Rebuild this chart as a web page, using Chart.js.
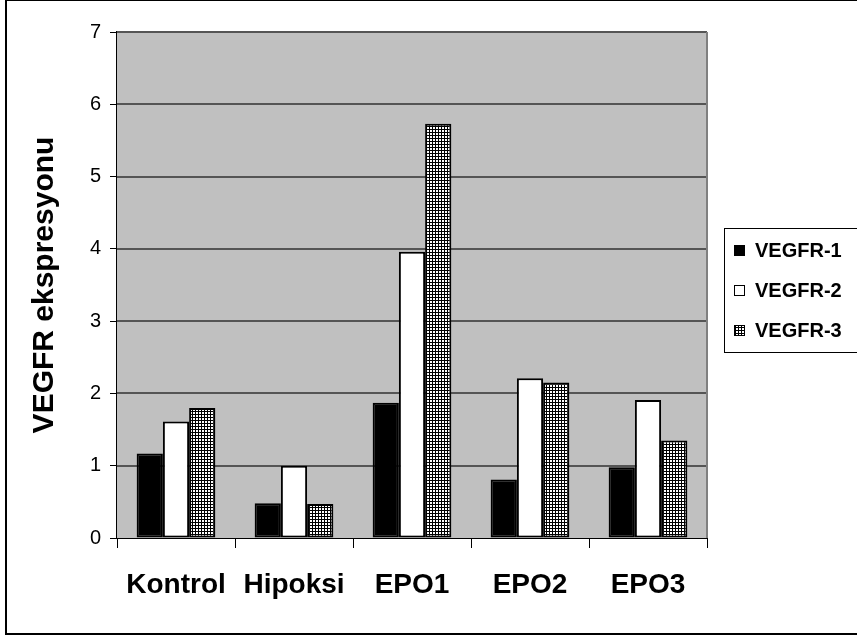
<!DOCTYPE html>
<html>
<head>
<meta charset="utf-8">
<script src="https://cdn.jsdelivr.net/npm/chart.js@4/dist/chart.umd.min.js"></script>
<style>
  html, body { margin: 0; padding: 0; background: #fff; }
  #wrap { width: 857px; height: 637px; }
</style>
</head>
<body>
<div id="wrap"><canvas id="c" width="857" height="637"></canvas></div>
<script>
// Categories and measured expression levels
const categories = ['Kontrol', 'Hipoksi', 'EPO1', 'EPO2', 'EPO3'];
const seriesNames = ['VEGFR-1', 'VEGFR-2', 'VEGFR-3'];
const vegfr1 = [1.17, 0.48, 1.87, 0.81, 0.98];
const vegfr2 = [1.61, 1.00, 3.96, 2.21, 1.91];
const vegfr3 = [1.80, 0.47, 5.73, 2.15, 1.35];
const yTicks = [0, 1, 2, 3, 4, 5, 6, 7];

const FONT = "'Liberation Sans', Arial, sans-serif";

// fine checkered fill for the third series
function gridPattern() {
  const p = document.createElement('canvas');
  p.width = 3; p.height = 3;
  const g = p.getContext('2d');
  g.fillStyle = '#ffffff';
  g.fillRect(0, 0, 3, 3);
  g.fillStyle = '#000000';
  g.fillRect(0, 0, 3, 1);
  g.fillRect(0, 0, 1, 3);
  return g.createPattern(p, 'repeat');
}
const ctx = document.getElementById('c').getContext('2d');
const checker = gridPattern();
const fills = ['#000000', '#ffffff', checker];

// gray plot background, frame, outer border and boxed legend
const decor = {
  id: 'decor',
  beforeDatasetsDraw(chart) {
    const { ctx, chartArea: a } = chart;
    ctx.save();
    ctx.fillStyle = '#c0c0c0';
    ctx.fillRect(a.left, a.top, a.right - a.left, a.bottom - a.top);
    const y = chart.scales.y;
    ctx.strokeStyle = '#555555';
    ctx.lineWidth = 2;
    yTicks.forEach(v => {
      if (v === 0) return;
      const py = Math.round(y.getPixelForValue(v));
      ctx.beginPath();
      ctx.moveTo(a.left, py);
      ctx.lineTo(a.right, py);
      ctx.stroke();
    });
    ctx.strokeStyle = '#808080';
    ctx.beginPath();
    ctx.moveTo(a.right, a.top);
    ctx.lineTo(a.right, a.bottom);
    ctx.stroke();
    ctx.restore();
  },
  afterDraw(chart) {
    const { ctx } = chart;
    ctx.save();
    // outer frame
    ctx.strokeStyle = '#000';
    ctx.lineWidth = 2;
    ctx.strokeRect(6, 0, 900, 634);
    // legend
    const lx = 724, ly = 228, lw = 200, lh = 124;
    ctx.lineWidth = 1;
    ctx.strokeRect(lx + 0.5, ly + 0.5, lw, lh);
    ctx.font = 'bold 20px ' + FONT;
    ctx.textBaseline = 'middle';
    ctx.textAlign = 'left';
    const rows = [250, 290, 330];
    seriesNames.forEach((name, i) => {
      const ry = rows[i];
      ctx.fillStyle = fills[i];
      ctx.fillRect(734, ry - 5, 11, 11);
      ctx.strokeStyle = '#000';
      ctx.lineWidth = 1;
      ctx.strokeRect(734.5, ry - 4.5, 10, 10);
      ctx.fillStyle = '#000';
      ctx.fillText(name, 755, ry + 1);
    });
    ctx.restore();
  }
};

new Chart(ctx, {
  type: 'bar',
  data: {
    labels: categories,
    datasets: [
      { label: seriesNames[0], data: vegfr1, backgroundColor: fills[0] },
      { label: seriesNames[1], data: vegfr2, backgroundColor: fills[1] },
      { label: seriesNames[2], data: vegfr3, backgroundColor: fills[2] }
    ].map(d => Object.assign(d, {
      borderColor: '#000', borderWidth: 2, borderSkipped: false,
      categoryPercentage: 0.667, barPercentage: 1.0
    }))
  },
  options: {
    responsive: false,
    animation: false,
    layout: { padding: { left: 23, top: 32, right: 150, bottom: 0 } },
    plugins: { legend: { display: false }, tooltip: { enabled: false } },
    scales: {
      x: {
        offset: true,
        grid: {
          offset: true, drawOnChartArea: false, drawTicks: true,
          tickLength: 10, color: '#000', lineWidth: 1
        },
        border: { display: true, color: '#000', width: 2 },
        ticks: {
          color: '#000', padding: 20,
          font: { family: FONT, size: 28, weight: 'bold' }
        },
        afterFit(s) { s.height = 637 - 538; }
      },
      y: {
        min: 0, max: 7,
        afterBuildTicks(s) { s.ticks = yTicks.map(v => ({ value: v })); },
        grid: {
          drawOnChartArea: false, drawTicks: true, tickLength: 7,
          color: '#000', lineWidth: 1
        },
        border: { display: true, color: '#000', width: 2 },
        ticks: {
          color: '#000', padding: 9,
          font: { family: FONT, size: 20 }
        },
        title: {
          display: true, text: 'VEGFR ekspresyonu', color: '#000',
          font: { family: FONT, size: 30, weight: 'bold' }
        },
        afterFit(s) { s.width = 117 - 23; }
      }
    }
  },
  plugins: [decor]
});
</script>
</body>
</html>
